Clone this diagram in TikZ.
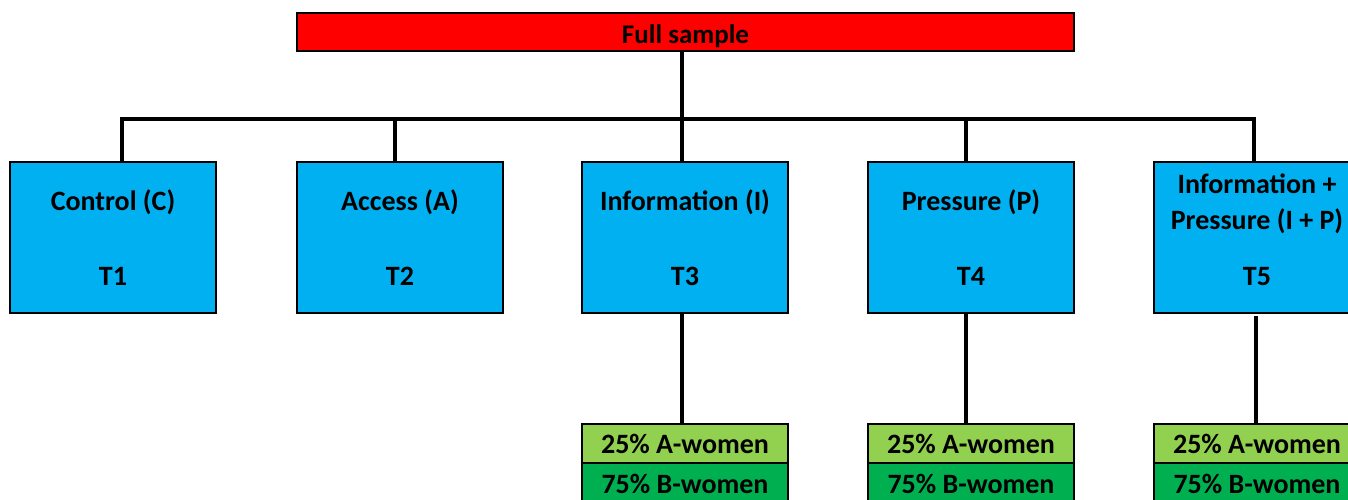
\documentclass[tikz,border=0pt]{standalone}
\usepackage{fontspec}
\setmainfont{Carlito}
\definecolor{topred}{HTML}{FF0000}
\definecolor{boxblue}{HTML}{00B0F0}
\definecolor{lgreen}{HTML}{92D050}
\definecolor{dgreen}{HTML}{00B050}
\begin{document}
\begin{tikzpicture}[x=1pt,y=1pt,
  tbox/.style={draw=black,line width=2.2pt,fill=boxblue,minimum width=206pt,minimum height=151pt,inner sep=0pt},
  topbox/.style={draw=black,line width=2.2pt,fill=topred,minimum width=777pt,minimum height=38pt,inner sep=0pt},
  gbox/.style={draw=black,line width=2.2pt,minimum width=206pt,minimum height=39pt,inner sep=0pt},
  txt/.style={anchor=base,inner sep=0pt,font=\fontsize{28}{32}\selectfont\bfseries},
  conn/.style={draw=black,line width=3.4pt}]
\useasboundingbox (0,0) rectangle (1348,499);
\clip (0,0) rectangle (1348,499);
% top
\node[topbox] (full) at (685.5,467) {};
\node[txt,font=\fontsize{27}{31}\selectfont\bfseries] (fullt) at (685.5,455) {Full sample};
% treatment boxes
\node[tbox] (b1) at (113,261.5) {};
\node[tbox] (b2) at (400,261.5) {};
\node[tbox] (b3) at (685,261.5) {};
\node[tbox] (b4) at (971,261.5) {};
\node[tbox] (b5) at (1257,261.5) {};
\node[txt] (b1a) at (113,289) {Control (C)};
\node[txt] (b1b) at (113,214) {T1};
\node[txt] (b2a) at (400,289) {Access (A)};
\node[txt] (b2b) at (400,214) {T2};
\node[txt] (b3a) at (685,289) {Information (I)};
\node[txt] (b3b) at (685,214) {T3};
\node[txt] (b4a) at (971,289) {Pressure (P)};
\node[txt] (b4b) at (971,214) {T4};
\node[txt] (b5a) at (1257,306) {Information +};
\node[txt] (b5b) at (1257,270) {Pressure (I + P)};
\node[txt] (b5c) at (1257,214) {T5};
% green boxes
\node[gbox,fill=lgreen] (g3a) at (685,55.5) {};
\node[gbox,fill=dgreen] (g3b) at (685,16.5) {};
\node[gbox,fill=lgreen] (g4a) at (971,55.5) {};
\node[gbox,fill=dgreen] (g4b) at (971,16.5) {};
\node[gbox,fill=lgreen] (g5a) at (1257,55.5) {};
\node[gbox,fill=dgreen] (g5b) at (1257,16.5) {};
\node[txt] (g3at) at (685,46) {25\% A-women};
\node[txt] (g3bt) at (685,6) {75\% B-women};
\node[txt] (g4at) at (971,46) {25\% A-women};
\node[txt] (g4bt) at (971,6) {75\% B-women};
\node[txt] (g5at) at (1257,46) {25\% A-women};
\node[txt] (g5bt) at (1257,6) {75\% B-women};
% connector coordinates
\coordinate (x1) at (122,380);
\coordinate (x2) at (395,380);
\coordinate (x3) at (682,380);
\coordinate (x4) at (966,380);
\coordinate (x5) at (1254,380);
\coordinate (y5) at (1256,183);
% connectors
\draw[conn] (full.south -| x3) -- (x3 |- b3.north);
\draw[conn] (x1 |- b1.north) -- (x1) -- (x5) -- (x5 |- b5.north);
\draw[conn] (x2) -- (x2 |- b2.north);
\draw[conn] (x4) -- (x4 |- b4.north);
\draw[conn] (b3.south -| x3) -- (x3 |- g3a.north);
\draw[conn] (b4.south -| x4) -- (x4 |- g4a.north);
\draw[conn] (y5) -- (y5 |- g5a.north);
\end{tikzpicture}
\end{document}
